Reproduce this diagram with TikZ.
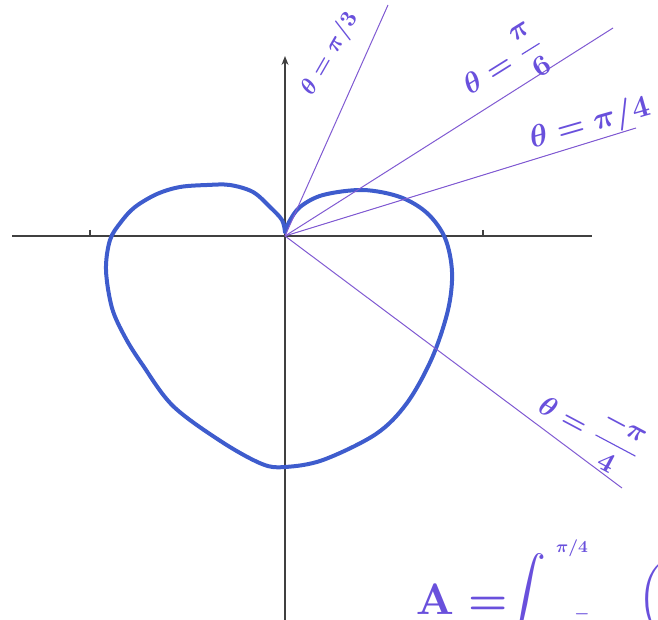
\documentclass[tikz,border=0pt]{standalone}
\usepackage{amsmath}
\usepackage{tikz}
\usetikzlibrary{arrows.meta}
\definecolor{penblue}{RGB}{62,92,205}
\definecolor{penviolet}{RGB}{128,90,210}
\definecolor{inkviolet}{RGB}{105,80,220}
\tikzset{
  axis/.style={draw=black!75, line width=1.3pt},
  tck/.style={draw=black!75, line width=1.5pt},
  ray/.style={draw=penviolet, line width=1pt},
  heart/.style={draw=penblue, line width=4pt, line join=round, line cap=round},
  lbl/.style={text=inkviolet, inner sep=1pt, font=\boldmath},
  big/.style={lbl, inner sep=0pt, scale=4.4}
}

\begin{document}
\begin{tikzpicture}[x=1pt, y=-1pt]
  \useasboundingbox (0,0) rectangle (658,620);
  \clip (0,0) rectangle (658,620);
  % axes
  \coordinate (O) at (285,236);
  \coordinate (xl) at (12,236);
  \coordinate (xr) at (592,236);
  \coordinate (yb) at (285,625);
  \coordinate (yt) at (285,56);
  \draw[axis] (xl) -- (xr);
  \draw[axis, -{Stealth[length=9pt,width=7pt]}] (yb) -- (yt);
  \draw[tck] (90,230) -- (90,236);
  \draw[tck] (483,230) -- (483,236);
  % the curve
  \draw[heart] plot[smooth, tension=0.55] coordinates {
    (285,232) (282,220) (270,207) (253,192) (230,185) (207,185) (180,187)
    (157,194) (135,207) (121,222) (110,240) (106,270) (112,308) (125,337)
    (142,364) (173,406) (222,442) (262,464) (285,467) (323,460) (376,434)
    (407,403) (432,358) (448,310) (452,272) (445,238) (427,213) (400,197)
    (363,190) (323,195) (300,207) (289,222) (285,232)};
  % rays
  \coordinate (r3) at (388,5);
  \coordinate (r6) at (613,28);
  \coordinate (r4) at (636,128);
  \coordinate (rm) at (622,488);
  \draw[ray] (O) -- (r3);
  \draw[ray] (O) -- (r6);
  \draw[ray] (O) -- (r4);
  \draw[ray] (O) -- (rm);
  % labels
  \node[lbl, scale=2.3, rotate=60] (l3) at (330,54) {$\theta=\pi/3$};
  \node[lbl, scale=2.9, rotate=32] (l6) at (505,66) {$\theta=\dfrac{\pi}{6}$};
  \node[lbl, scale=3.1, rotate=16] (l4) at (590,124) {$\theta=\pi/4$};
  \node[lbl, scale=2.8, rotate=-28] (lm) at (590,430) {$\theta=\dfrac{-\pi}{4}$};
  % area formula
  \node[big, anchor=base west] (A) at (415,614) {$\mathrm{A}=$};
  \node[big, scale=0.95] (int) at (525,600) {$\displaystyle\int$};
  \node[lbl, scale=1.7] (up) at (572,548) {$\pi/4$};
  \node[lbl, scale=1.7] (lo) at (582,614) {$-$};
  \node[big, scale=0.9] (par) at (650,600) {$\Bigl($};
\end{tikzpicture}
\end{document}
